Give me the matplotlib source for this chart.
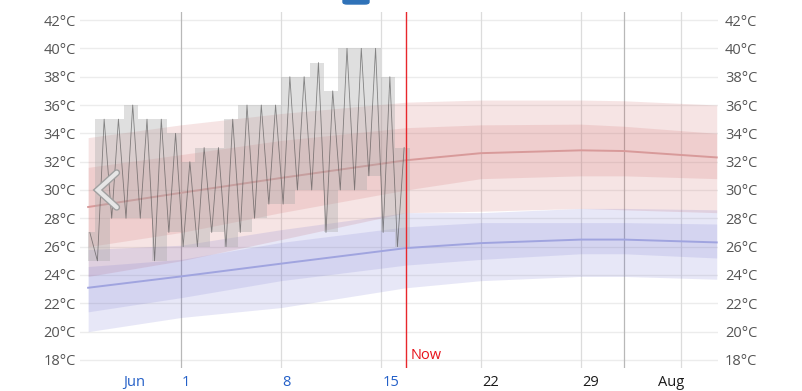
import matplotlib
matplotlib.use("Agg")
import matplotlib.pyplot as plt
import matplotlib.patheffects as pe
from matplotlib.patches import FancyBboxPatch

plt.rcParams["font.family"] = ["Open Sans", "DejaVu Sans"]

# days counted from July 1 (day 0)
obs_days = list(range(-7, 16))
obs_max = [27, 35, 35, 36, 35, 35, 34, 32, 33, 33, 35, 36, 36, 36, 38, 38, 39, 37, 40, 40, 40, 38, 33]
obs_min = [25, 25, 28, 28, 28, 25, 27, 26, 26, 27, 26, 27, 28, 29, 29, 30, 30, 27, 30, 30, 31, 27, 26]
obs_start = -6.5
now_day = 15.75

# climate bands (upper = highs, lower = lows)
band_days = [-6.5, 0, 7, 15.75, 21, 28, 31, 37.5]
red_mean = [28.8, 29.8, 30.85, 32.1, 32.6, 32.8, 32.75, 32.3]
red_in_hi = [31.6, 32.5, 33.5, 34.4, 34.6, 34.65, 34.5, 34.0]
red_in_lo = [26.0, 27.0, 28.4, 30.0, 30.8, 31.0, 31.0, 30.8]
red_out_hi = [33.7, 34.6, 35.4, 36.2, 36.35, 36.35, 36.3, 36.0]
red_out_lo = [23.9, 25.0, 26.5, 28.4, 28.5, 28.7, 28.6, 28.4]
blue_mean = [23.1, 23.9, 24.8, 25.9, 26.25, 26.5, 26.5, 26.3]
blue_in_hi = [24.6, 25.1, 26.3, 27.4, 27.7, 27.7, 27.7, 27.6]
blue_in_lo = [21.4, 22.4, 23.6, 24.7, 25.1, 25.5, 25.5, 25.2]
blue_out_hi = [25.8, 26.1, 27.2, 28.4, 28.4, 28.7, 28.7, 28.6]
blue_out_lo = [20.0, 21.0, 21.7, 23.1, 23.6, 23.9, 23.9, 23.7]

y_ticks = list(range(18, 43, 2))
x_label_days = [-4.06, 0.07, 7.07, 14.1, 21.07, 28.1, 33.4]
x_labels = ["Jun", "1", "8", "15", "22", "29", "Aug"]
x_label_colors = ["#2460c8"] * 4 + ["#1a1a1a"] * 3
week_lines = [7, 14, 21, 28, 35]
month_lines = [0, 31]

fig = plt.figure(figsize=(8.03, 3.91), dpi=100)
ax = fig.add_axes([80 / 803, 23 / 391, 638 / 803, 356 / 391])
ax.set_xlim(-7.07, 37.59)
ax.set_ylim(17.435, 42.565)

for s in ax.spines.values():
    s.set_visible(False)

# grid
for t in y_ticks:
    ax.axhline(t, color="#ececec", lw=1, zorder=0)
for d in week_lines:
    ax.axvline(d, color="#dcdcdc", lw=0.9, zorder=0)
for d in month_lines:
    ax.axvline(d, color="#b8b8b8", lw=0.9, zorder=0)

# bands
red = (0.78, 0.31, 0.31)
blue = (0.35, 0.35, 0.78)
ax.fill_between(band_days, red_out_lo, red_out_hi, color=red, alpha=0.15, lw=0, zorder=1)
ax.fill_between(band_days, red_in_lo, red_in_hi, color=red, alpha=0.14, lw=0, zorder=1)
ax.fill_between(band_days, blue_out_lo, blue_out_hi, color=blue, alpha=0.14, lw=0, zorder=1)
ax.fill_between(band_days, blue_in_lo, blue_in_hi, color=blue, alpha=0.13, lw=0, zorder=1)
ax.plot(band_days, red_mean, color="#d89a9a", lw=1.4, zorder=2)
ax.plot(band_days, blue_mean, color="#a0a4df", lw=1.4, zorder=2)

# observed daily ranges
for d, hi, lo in zip(obs_days, obs_max, obs_min):
    x0 = max(d, obs_start)
    ax.bar(x0, hi - lo, width=d + 1 - x0, bottom=lo, align="edge",
           color="#a8a8a8", alpha=0.36, lw=0, zorder=3)

# observed temperature trace
tx, ty = [], []
for d, hi, lo in zip(obs_days, obs_max, obs_min):
    for t, v in ((d + 0.15, lo), (d + 0.62, hi)):
        if obs_start <= t <= now_day:
            tx.append(t)
            ty.append(v)
ax.plot(tx, ty, color="#444444", lw=0.6, alpha=0.6, zorder=4)

# now line
ax.axvline(now_day, color="#e8272c", lw=1, zorder=5)
ax.text(now_day + 0.35, 0.034, "Now", color="#e8131b", fontsize=10.5,
        ha="left", va="center", transform=ax.get_xaxis_transform())

# nav chevron
ax.plot([-4.5, -5.83, -4.5], [31.22, 30.0, 28.78], color="#e6e6e6", lw=3,
        solid_capstyle="round", solid_joinstyle="miter", zorder=6,
        path_effects=[pe.Stroke(linewidth=5, foreground="#a0a0a0"), pe.Normal()])

# y labels both sides
ax.set_yticks(y_ticks)
ax.set_yticklabels([f"{t}°C" for t in y_ticks])
ax.tick_params(axis="y", length=0, pad=3, labelsize=10.5, labelcolor="#555555")
ax2 = ax.twinx()
ax2.set_ylim(ax.get_ylim())
ax2.set_yticks(y_ticks)
ax2.set_yticklabels([f"{t}°C" for t in y_ticks])
ax2.tick_params(axis="y", length=0, pad=5, labelsize=10.5, labelcolor="#555555")
for s in ax2.spines.values():
    s.set_visible(False)

# x labels
ax.set_xticks([])
for d, lab, c in zip(x_label_days, x_labels, x_label_colors):
    ax.text(d, -0.04, lab, color=c, fontsize=10.5, ha="left", va="center",
            transform=ax.get_xaxis_transform())

# clipped button at the top
fig.patches.append(FancyBboxPatch((343 / 803, 1 - 4 / 391), 26 / 803, 12 / 391,
                                  boxstyle="round,pad=0,rounding_size=0.005",
                                  transform=fig.transFigure, color="#2f72b8"))

fig.savefig("out.png", dpi=100)
